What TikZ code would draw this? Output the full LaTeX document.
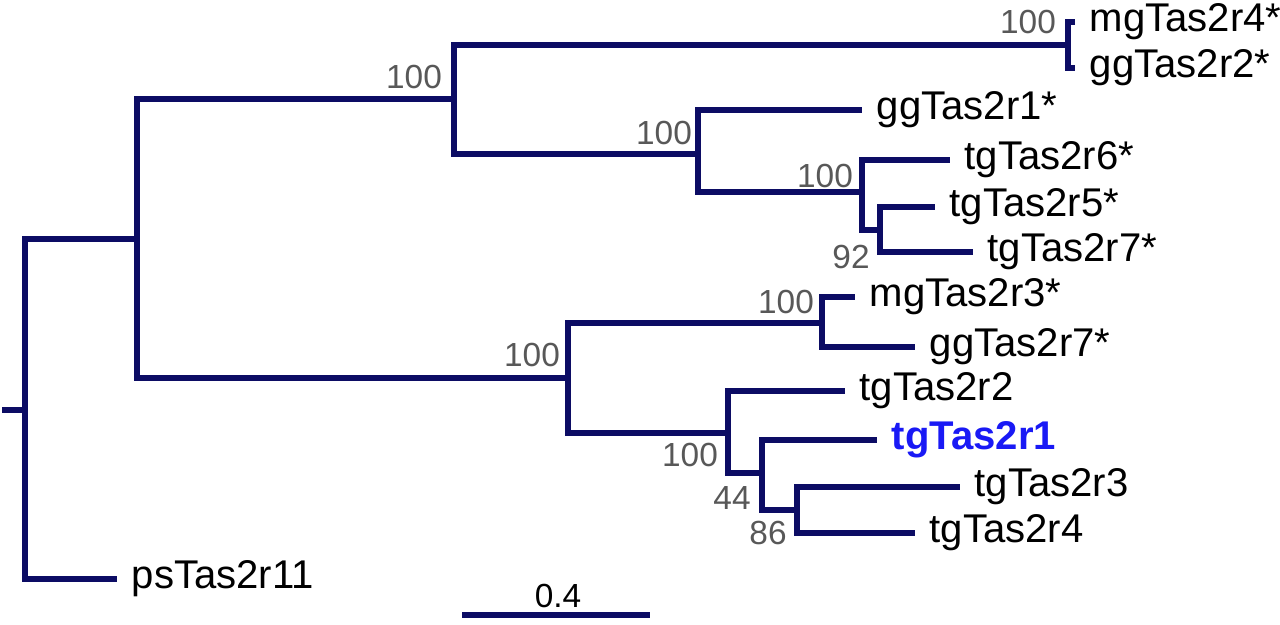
\documentclass[tikz,border=0pt]{standalone}
\usepackage{fontspec}
\setmainfont{Liberation Sans}
\definecolor{treenavy}{RGB}{12,12,100}
\definecolor{bootgray}{RGB}{88,88,88}
\definecolor{hiblue}{RGB}{25,25,245}
\begin{document}
\begin{tikzpicture}[x=0.01cm,y=-0.01cm,
    branch/.style={draw=treenavy,line width=1.6pt},
    leaf/.style={anchor=west,inner xsep=4pt,font=\fontsize{11.4}{13}\selectfont},
    boot/.style={text=bootgray,inner sep=0pt,font=\fontsize{9.5}{11}\selectfont}]
    \useasboundingbox (0,0) rectangle (1280,624);
%
    % inner nodes
    \coordinate (stub) at (2,410);
    \coordinate (root) at (25,410);
    \coordinate (nA) at (137,239);
    \coordinate (nB) at (454,99);
    \coordinate (nC) at (1068,45);
    \coordinate (nD) at (698,154);
    \coordinate (nE) at (862,192);
    \coordinate (nF) at (880,230);
    \coordinate (nG) at (568,378);
    \coordinate (nH) at (822,323);
    \coordinate (nJ) at (728,433);
    \coordinate (nK) at (762,473);
    \coordinate (nM) at (797,510);
%
    % leaves
    \node[leaf] (mg4) at (1075,22) {mgTas2r4*};
    \node[leaf] (gg2) at (1075,68) {ggTas2r2*};
    \node[leaf] (gg1) at (862,110) {ggTas2r1*};
    \node[leaf] (tg6) at (950,160) {tgTas2r6*};
    \node[leaf] (tg5) at (935,207) {tgTas2r5*};
    \node[leaf] (tg7) at (973,252) {tgTas2r7*};
    \node[leaf] (mg3) at (855,297) {mgTas2r3*};
    \node[leaf] (gg7) at (915,347) {ggTas2r7*};
    \node[leaf] (tg2) at (845,391) {tgTas2r2};
    \node[leaf,text=hiblue,font=\fontsize{11.4}{13}\selectfont\bfseries] (tg1) at (877,440) {tgTas2r1};
    \node[leaf] (tg3) at (960,487) {tgTas2r3};
    \node[leaf] (tg4) at (915,533) {tgTas2r4};
    \node[leaf] (ps11) at (117,579) {psTas2r11};
%
    % branches
    \draw[branch] (stub) -- (root);
    \draw[branch] (root) |- (nA);
    \draw[branch] (root) |- (ps11.west);
    \draw[branch] (nA) |- (nB);
    \draw[branch] (nA) |- (nG);
    \draw[branch] (nB) |- (nC);
    \draw[branch] (nB) |- (nD);
    \draw[branch] (nC) |- (mg4.west);
    \draw[branch] (nC) |- (gg2.west);
    \draw[branch] (nD) |- (gg1.west);
    \draw[branch] (nD) |- (nE);
    \draw[branch] (nE) |- (tg6.west);
    \draw[branch] (nE) |- (nF);
    \draw[branch] (nF) |- (tg5.west);
    \draw[branch] (nF) |- (tg7.west);
    \draw[branch] (nG) |- (nH);
    \draw[branch] (nG) |- (nJ);
    \draw[branch] (nH) |- (mg3.west);
    \draw[branch] (nH) |- (gg7.west);
    \draw[branch] (nJ) |- (tg2.west);
    \draw[branch] (nJ) |- (nK);
    \draw[branch] (nK) |- (tg1.west);
    \draw[branch] (nK) |- (nM);
    \draw[branch] (nM) |- (tg3.west);
    \draw[branch] (nM) |- (tg4.west);
%
    % support values
    \node[boot] (sB) at (414,77) {100};
    \node[boot] (sC) at (1028,22) {100};
    \node[boot] (sD) at (664,133) {100};
    \node[boot] (sE) at (825,176) {100};
    \node[boot] (sF) at (851,257) {92};
    \node[boot] (sG) at (532,355) {100};
    \node[boot] (sH) at (786,302) {100};
    \node[boot] (sJ) at (690,455) {100};
    \node[boot] (sK) at (732,498) {44};
    \node[boot] (sM) at (768,533) {86};
%
    % scale bar
    \coordinate (bar0) at (462,615);
    \coordinate (bar1) at (650,615);
    \draw[branch] (bar0) -- (bar1);
    \node[font=\fontsize{9.5}{11}\selectfont] (barlabel) at (558,596) {0.4};
\end{tikzpicture}
\end{document}
